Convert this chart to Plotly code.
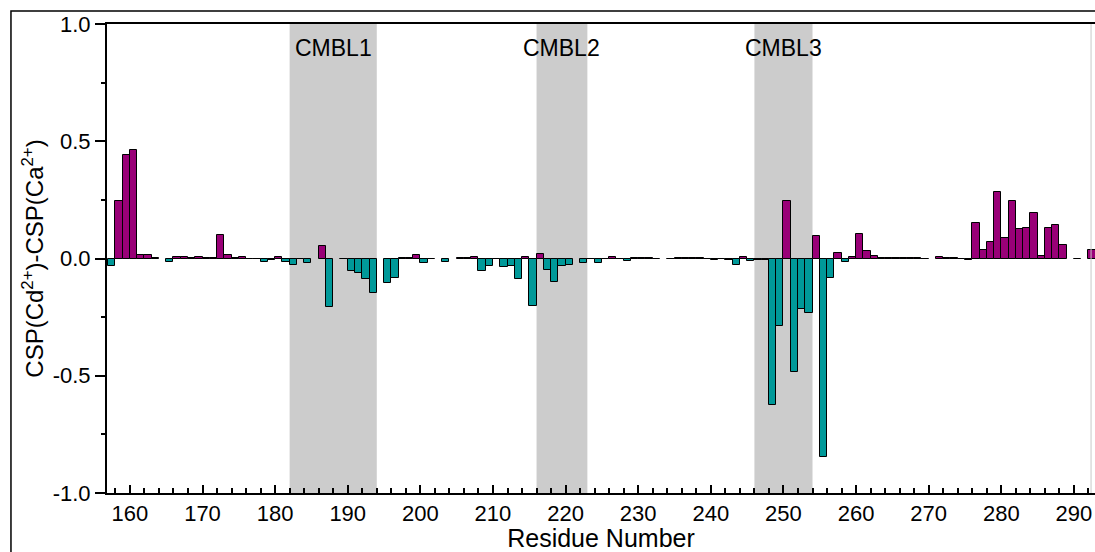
import plotly.graph_objects as go

# Residue numbers (left edge of each bar) and CSP difference values; None = no data
residues = list(range(157, 293))
csp_diff = [
    -0.033, 0.247, 0.440, 0.462, 0.017, 0.013, 0.002, None, -0.017, 0.007,   # 157-166
    0.007, 0.003, 0.008, 0.002, 0.001, 0.102, 0.017, 0.002, 0.008, -0.003,   # 167-176
    -0.003, -0.017, -0.005, 0.007, -0.016, -0.027, -0.004, -0.018, None, 0.055,  # 177-186
    -0.206, None, -0.004, -0.054, -0.061, -0.087, -0.146, None, -0.104, -0.082,  # 187-196
    0.001, 0.001, 0.013, -0.018, -0.004, None, -0.016, None, 0.001, 0.001,   # 197-206
    0.006, -0.054, -0.033, -0.004, -0.036, -0.030, -0.087, 0.006, -0.203, 0.020,  # 207-216
    -0.051, -0.100, -0.030, -0.028, None, -0.021, -0.004, -0.018, -0.004, 0.005,  # 217-226
    -0.003, -0.011, 0.002, 0.002, 0.002, -0.003, None, -0.003, 0.004, 0.004,   # 227-236
    0.001, 0.001, -0.003, -0.006, -0.003, -0.006, -0.028, 0.006, -0.011, -0.006,  # 237-246
    -0.006, -0.623, -0.287, 0.247, -0.486, -0.216, -0.233, 0.097, -0.846, -0.084,  # 247-256
    0.023, -0.015, 0.006, 0.104, 0.033, 0.009, 0.004, 0.002, 0.002, 0.002,   # 257-266
    0.002, 0.002, -0.003, None, 0.007, 0.004, 0.002, -0.003, -0.006, 0.151,   # 267-276
    0.036, 0.072, 0.283, 0.088, 0.244, 0.125, 0.129, 0.196, 0.009, 0.128,   # 277-286
    0.142, 0.057, None, -0.004, None, 0.036,                                 # 287-292
]

# Calcium-binding motif loops (residue ranges)
loop_names = ["CMBL1", "CMBL2", "CMBL3"]
loop_starts = [182, 216, 246]
loop_ends = [194, 223, 254]

y_tick_vals = [-1.0, -0.5, 0.0, 0.5, 1.0]
y_tick_text = ["-1.0", "-0.5", "0.0", "0.5", "1.0"]

POS_COLOR = "#990077"
NEG_COLOR = "#009999"
FONT = "Liberation Sans, Arial, sans-serif"

colors = [POS_COLOR if (v is not None and v > 0) else NEG_COLOR for v in csp_diff]

fig = go.Figure()
fig.add_trace(go.Bar(
    x=residues,
    y=csp_diff,
    width=1,
    offset=0,
    marker=dict(color=colors, line=dict(color="black", width=1)),
    showlegend=False,
))

# Shaded loop regions with their labels
for name, s, e in zip(loop_names, loop_starts, loop_ends):
    fig.add_shape(type="rect", xref="x", yref="paper", x0=s, x1=e, y0=0, y1=1,
                  fillcolor="#cccccc", line=dict(width=0), layer="below")
    fig.add_annotation(x=(s + e) / 2, y=0.949, xref="x", yref="paper",
                       text=name, showarrow=False, yanchor="middle",
                       font=dict(family=FONT, size=23, color="black"))

# Outer frame and faint right edge line
fig.add_shape(type="rect", xref="paper", yref="paper",
              x0=-0.0972, x1=1.2, y0=-0.3, y1=1.0277,
              line=dict(color="black", width=1.5), fillcolor="rgba(0,0,0,0)", layer="above")
fig.add_shape(type="line", xref="paper", yref="paper", x0=0.996, x1=0.996, y0=0, y1=1,
              line=dict(color="#c8c8c8", width=1), layer="above")

fig.update_layout(
    width=1095, height=552,
    margin=dict(l=107, r=0, t=24, b=59),
    plot_bgcolor="white", paper_bgcolor="white",
    bargap=0,
    font=dict(family=FONT, size=22, color="black"),
    xaxis=dict(
        range=[156.85, 292.9],
        tick0=160, dtick=10,
        ticks="inside", ticklen=8, tickwidth=1.5, tickcolor="black",
        minor=dict(ticks="inside", ticklen=5, tickwidth=1.5, tickcolor="black", dtick=2, tick0=160),
        showline=True, linecolor="black", linewidth=2, mirror=True,
        showgrid=False, zeroline=False,
        tickfont=dict(family=FONT, size=22),
        title=dict(text="Residue Number", font=dict(family=FONT, size=25), standoff=9),
    ),
    yaxis=dict(
        range=[-1, 1],
        tickmode="array", tickvals=y_tick_vals, ticktext=y_tick_text,
        ticks="outside", ticklen=10, tickwidth=1.5, tickcolor="black",
        minor=dict(tickmode="linear", tick0=0, dtick=0.25, ticks="outside",
                   ticklen=4, tickwidth=1.5, tickcolor="black"),
        showline=True, linecolor="black", linewidth=2,
        showgrid=False, zeroline=False,
        tickfont=dict(family=FONT, size=22),
        title=dict(text="CSP(Cd<sup>2+</sup>)-CSP(Ca<sup>2+</sup>)",
                   font=dict(family=FONT, size=24), standoff=2),
    ),
)

fig.write_html("out.html")
